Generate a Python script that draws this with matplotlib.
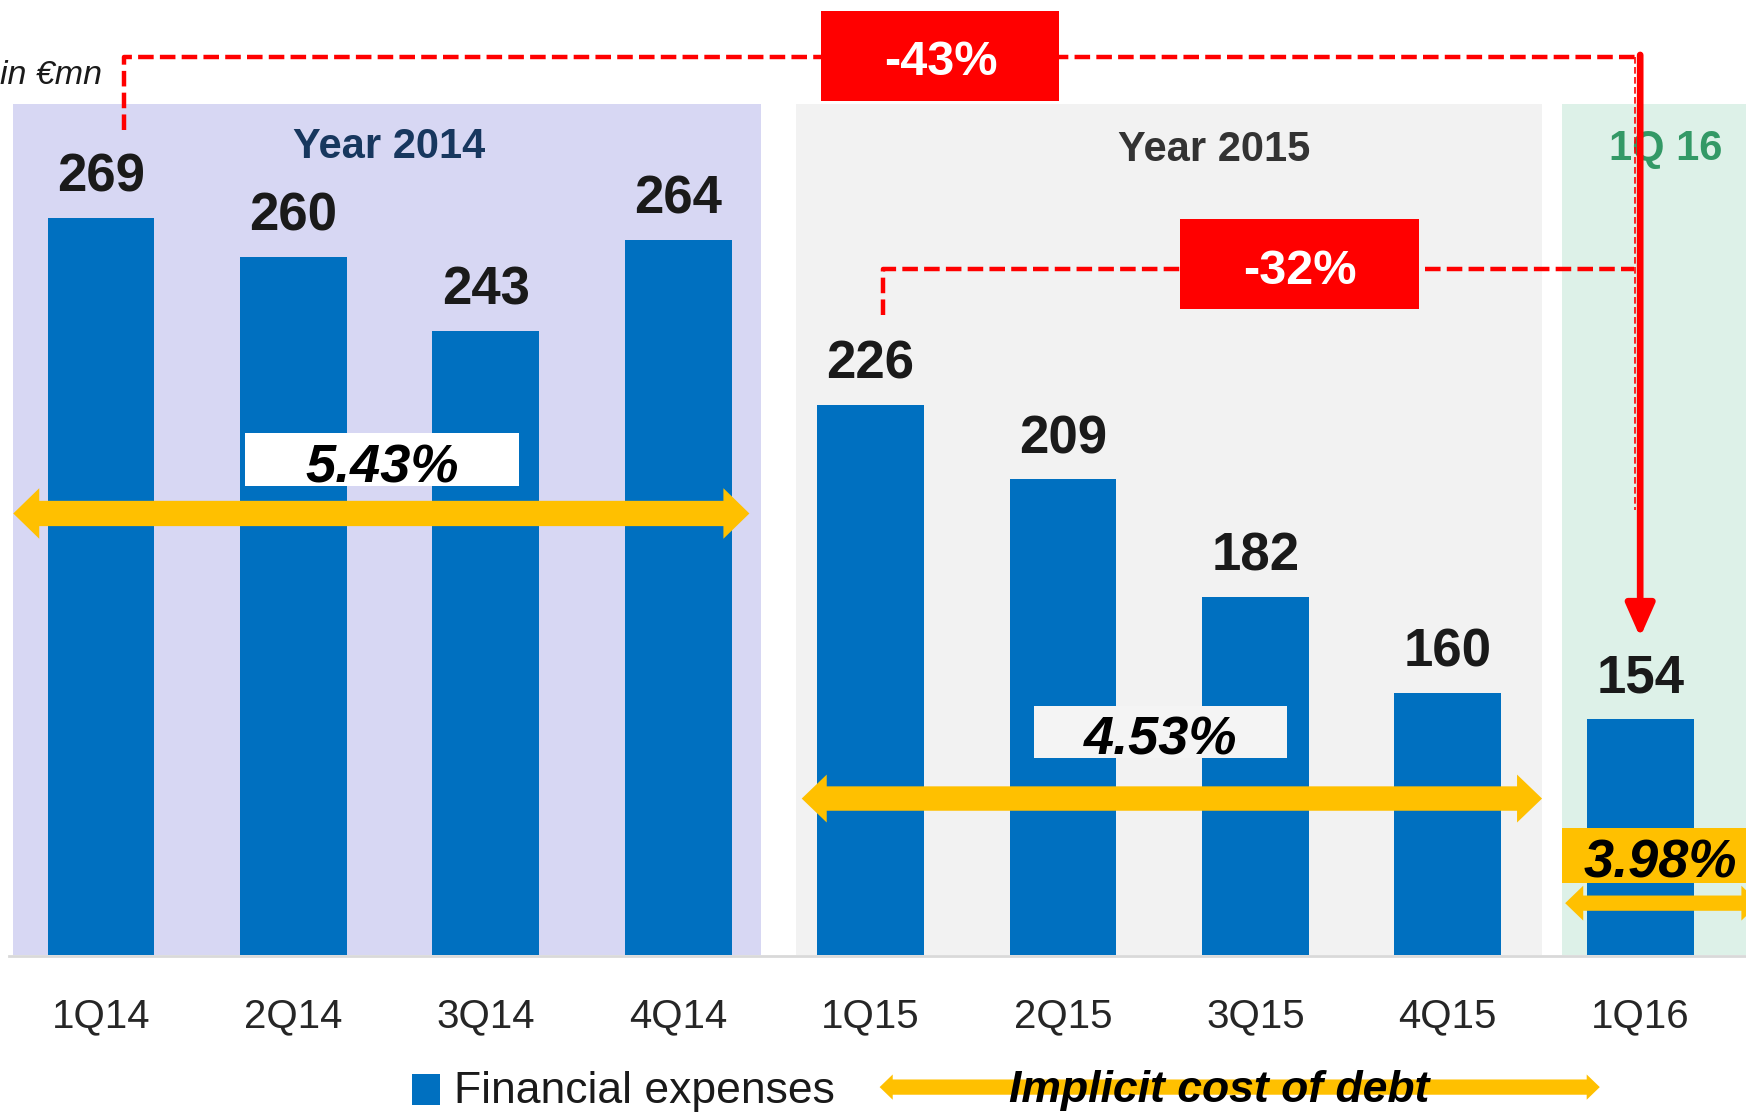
import numpy as np
import matplotlib
matplotlib.use("Agg")
import matplotlib.pyplot as plt
from matplotlib.patches import Rectangle, Polygon

plt.rcParams["font.family"] = ["Liberation Sans", "DejaVu Sans"]

# data
quarters = ["1Q14", "2Q14", "3Q14", "4Q14", "1Q15", "2Q15", "3Q15", "4Q15", "1Q16"]
expenses = [269, 260, 243, 264, 226, 209, 182, 160, 154]
cost_of_debt = ["5.43%", "4.53%", "3.98%"]
period_titles = ["Year 2014", "Year 2015", "1Q 16"]
changes = ["-43%", "-32%"]

BLUE = "#0070C0"
YELLOW = "#FFC000"
RED = "#FF0000"
base = 100

fig = plt.figure(figsize=(17.46, 11.15), dpi=100)
ax = fig.add_axes([0, 0, 1, 1])
ax.set_xlim(-0.525, 8.55)
ax.set_ylim(63.2, 319.0)
ax.axis("off")

x = np.arange(len(quarters))


def double_arrow(x0, x1, y, sh, hh, hl, z=4):
    pts = [(x0, y), (x0 + hl, y + hh), (x0 + hl, y + sh), (x1 - hl, y + sh),
           (x1 - hl, y + hh), (x1, y), (x1 - hl, y - hh), (x1 - hl, y - sh),
           (x0 + hl, y - sh), (x0 + hl, y - hh)]
    ax.add_patch(Polygon(pts, closed=True, facecolor=YELLOW, edgecolor="none", zorder=z))


# period panels
panels = [(-0.456, 3.428, "#D7D7F3"), (3.613, 7.49, "#F2F2F2"), (7.595, 8.7, "#DDF1E8")]
for x0, x1, c in panels:
    ax.add_patch(Rectangle((x0, base), x1 - x0, 195.2, facecolor=c, edgecolor="none", zorder=0))
ax.plot([-0.48, 8.6], [99.6, 99.6], color="#D9D9D9", lw=2, zorder=1)

# bars
ax.bar(x, np.array(expenses) - base, bottom=base, width=0.556, color=BLUE, zorder=2)
for xi, v in zip(x, expenses):
    ax.annotate(str(v), (xi, v), xytext=(0, 19), textcoords="offset points",
                ha="center", va="baseline", fontsize=38, fontweight="bold",
                color="#1A1A1A", zorder=6)

# category labels
for xi, q in zip(x, quarters):
    ax.text(xi, 83.4, q, ha="center", va="baseline", fontsize=29, color="#262626")

# panel titles
ax.text(1.495, 282.7, period_titles[0], ha="center", va="baseline", fontsize=30,
        fontweight="bold", color="#17375E", zorder=3)
ax.text(5.783, 282.0, period_titles[1], ha="center", va="baseline", fontsize=30,
        fontweight="bold", color="#333333", zorder=3)
ax.text(8.133, 282.2, period_titles[2], ha="center", va="baseline", fontsize=30,
        fontweight="bold", color="#339966", zorder=3)

# implicit cost of debt arrows and boxes
double_arrow(-0.456, 3.37, 201.2, 2.9, 5.8, 0.135)
double_arrow(3.642, 7.49, 135.8, 2.8, 5.5, 0.13)
double_arrow(7.61, 8.62, 111.8, 1.75, 4.0, 0.094)

ax.add_patch(Rectangle((0.748, 207.6), 1.424, 12.0, facecolor="white", edgecolor="none", zorder=5))
ax.add_patch(Rectangle((4.851, 145.0), 1.314, 12.0, facecolor="#F4F4F4", edgecolor="none", zorder=5))
ax.add_patch(Rectangle((7.595, 116.4), 1.1, 12.7, facecolor=YELLOW, edgecolor="none", zorder=5))
for (tx, ty), s in zip([(1.46, 208.4), (5.506, 146.0), (8.105, 117.6)], cost_of_debt):
    ax.text(tx, ty, s, ha="center", va="baseline", fontsize=39, fontweight="bold",
            fontstyle="italic", color="black", zorder=6)

# change connectors
dash = dict(color=RED, lw=3.2, dashes=(3.5, 1.4), zorder=4, solid_capstyle="butt")
ax.plot([0.12, 0.12, 8.0], [289.2, 305.9, 305.9], **dash)
ax.plot([4.064, 4.064, 7.97], [246.7, 257.4, 257.4], **dash)
ax.plot([7.972, 7.972], [305.9, 202.0], color=RED, lw=1.2, dashes=(4, 2), zorder=4)
ax.annotate("", xy=(8.0, 172.8), xytext=(8.0, 306.4),
            arrowprops=dict(arrowstyle="-|>,head_length=1.0,head_width=0.44",
                            mutation_scale=20, color=RED, lw=4.8,
                            shrinkA=0, shrinkB=0), zorder=5)

ax.add_patch(Rectangle((3.74, 295.8), 1.239, 20.7, facecolor=RED, edgecolor="none", zorder=5))
ax.add_patch(Rectangle((5.609, 248.2), 1.239, 20.5, facecolor=RED, edgecolor="none", zorder=5))
ax.text(4.365, 301.8, changes[0], ha="center", va="baseline", fontsize=35,
        fontweight="bold", color="white", zorder=6)
ax.text(6.229, 253.8, changes[1], ha="center", va="baseline", fontsize=35,
        fontweight="bold", color="white", zorder=6)

ax.text(-0.525, 299.8, "in €mn", ha="left", va="baseline", fontsize=24.5,
        fontstyle="italic", color="#1A1A1A")

# legend
ax.add_patch(Rectangle((1.616, 65.6), 0.146, 6.9, facecolor=BLUE, edgecolor="none"))
ax.text(1.835, 66.0, "Financial expenses", ha="left", va="baseline", fontsize=32,
        color="#1A1A1A")
double_arrow(4.047, 7.79, 69.6, 1.75, 2.9, 0.068)
ax.text(5.812, 66.2, "Implicit cost of debt", ha="center", va="baseline", fontsize=32,
        fontweight="bold", fontstyle="italic", color="black", zorder=6)

fig.savefig("out.png", dpi=100)
